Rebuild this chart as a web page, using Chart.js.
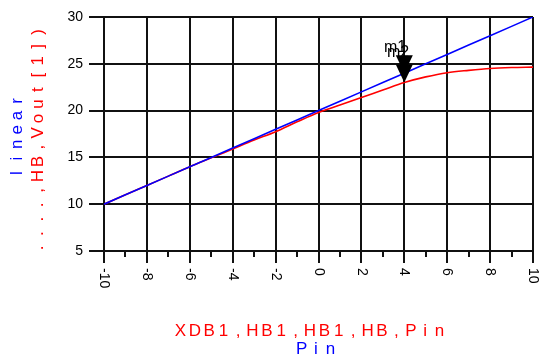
<!DOCTYPE html>
<html>
<head>
<meta charset="utf-8">
<script src="https://cdn.jsdelivr.net/npm/chart.js@4"></script>
<style>
  html, body { margin: 0; padding: 0; background: #fff; }
  #wrap { width: 541px; height: 360px; }
</style>
</head>
<body>
<div id="wrap"><canvas id="grafica"></canvas></div>
<script>
// valores
const pin = [-10, -9, -8, -7, -6, -5, -4, -3, -2, -1, 0, 1, 2, 3, 4, 5, 6, 7, 8, 9, 10];
const linear = [10, 11, 12, 13, 14, 15, 16, 17, 18, 19, 20, 21, 22, 23, 24, 25, 26, 27, 28, 29, 30];
const vout = [10, 11, 12, 13, 14, 14.95, 15.9, 16.85, 17.75, 18.8, 19.8, 20.6, 21.4, 22.2, 23.0, 23.6, 24.05, 24.3, 24.5, 24.6, 24.65];
const xTicks = [-10, -8, -6, -4, -2, 0, 2, 4, 6, 8, 10];
const xMinor = [-9, -7, -5, -3, -1, 1, 3, 5, 7, 9];
const markerNames = ['m1', 'm2'];
const markerX = [4, 4];
const markerY = [24, 23.0];

const PITCH = 14.4;
const TITLE_FONT = '17px "Liberation Sans"';

function drawSpaced(ctx, text, cx, cy, color) {
    const n = text.length;
    const start = cx - n * PITCH / 2;
    ctx.fillStyle = color;
    ctx.textAlign = 'center';
    ctx.textBaseline = 'alphabetic';
    for (let i = 0; i < n; i++) {
        ctx.fillText(text[i], start + i * PITCH + PITCH / 2, cy);
    }
}

const extras = {
    id: 'extras',
    afterDraw(chart) {
        const ctx = chart.ctx;
        const x = chart.scales.x;
        const y = chart.scales.y;
        const bottom = chart.chartArea.bottom;
        ctx.save();

        // ticks menores
        ctx.strokeStyle = '#111';
        ctx.lineWidth = 2;
        xMinor.forEach(v => {
            const px = Math.round(x.getPixelForValue(v));
            ctx.beginPath();
            ctx.moveTo(px, bottom);
            ctx.lineTo(px, bottom + 6);
            ctx.stroke();
        });

        // etiquetas del eje x, giradas
        ctx.fillStyle = '#000';
        ctx.font = '14px "Liberation Sans"';
        ctx.textAlign = 'left';
        ctx.textBaseline = 'middle';
        xTicks.forEach(v => {
            const px = x.getPixelForValue(v);
            ctx.save();
            ctx.translate(px, bottom + 17);
            ctx.rotate(Math.PI / 2);
            ctx.fillText(String(v), 0, 0);
            ctx.restore();
        });

        // marcadores
        markerX.forEach((mx, i) => {
            const px = x.getPixelForValue(mx);
            const py = y.getPixelForValue(markerY[i]);
            ctx.fillStyle = '#000';
            ctx.beginPath();
            ctx.moveTo(px, py);
            ctx.lineTo(px - 8.5, py - 18);
            ctx.lineTo(px + 8.5, py - 18);
            ctx.closePath();
            ctx.fill();
        });
        ctx.font = '16px "Liberation Sans"';
        ctx.textAlign = 'left';
        ctx.textBaseline = 'alphabetic';
        ctx.fillStyle = '#000';
        ctx.fillText(markerNames[0], 384, 52);
        ctx.fillText(markerNames[1], 387, 57);

        // titulos
        ctx.font = TITLE_FONT;
        drawSpaced(ctx, 'XDB1,HB1,HB1,HB,Pin', 310, 336, '#ff0000');
        drawSpaced(ctx, 'Pin', 316, 354, '#0000ff');

        ctx.save();
        ctx.translate(22, 137);
        ctx.rotate(-Math.PI / 2);
        drawSpaced(ctx, 'linear', 0, 0, '#0000ff');
        ctx.restore();

        ctx.save();
        ctx.translate(43, 140);
        ctx.rotate(-Math.PI / 2);
        drawSpaced(ctx, '....,HB,Vout[1])', 0, 0, '#ff0000');
        ctx.restore();

        ctx.restore();
    }
};

new Chart(document.getElementById('grafica'), {
    type: 'line',
    data: {
        labels: pin,
        datasets: [{
            label: 'linear',
            data: pin.map((p, i) => ({ x: p, y: linear[i] })),
            borderColor: '#0000ff',
            borderWidth: 1.6,
            pointRadius: 0,
            tension: 0
        }, {
            label: 'Vout',
            data: pin.map((p, i) => ({ x: p, y: vout[i] })),
            borderColor: '#ff0000',
            borderWidth: 1.6,
            pointRadius: 0,
            cubicInterpolationMode: 'monotone'
        }]
    },
    options: {
        responsive: true,
        maintainAspectRatio: false,
        animation: false,
        layout: { padding: { left: 44, right: 8, top: 17, bottom: 69 } },
        plugins: {
            legend: { display: false },
            tooltip: { enabled: false }
        },
        scales: {
            x: {
                type: 'linear',
                min: -10,
                max: 10,
                afterBuildTicks(scale) {
                    scale.ticks = xTicks.map(v => ({ value: v }));
                },
                afterFit(scale) { scale.height = 40; },
                ticks: { display: false },
                grid: { color: '#111', lineWidth: 2, tickLength: 12 },
                border: { display: false }
            },
            y: {
                min: 5,
                max: 30,
                afterFit(scale) { scale.width = 60; },
                ticks: {
                    stepSize: 5,
                    color: '#000',
                    padding: 6,
                    font: { family: 'Liberation Sans', size: 14 }
                },
                grid: { color: '#111', lineWidth: 2, tickLength: 15 },
                border: { display: false }
            }
        }
    },
    plugins: [extras]
});
</script>
</body>
</html>
